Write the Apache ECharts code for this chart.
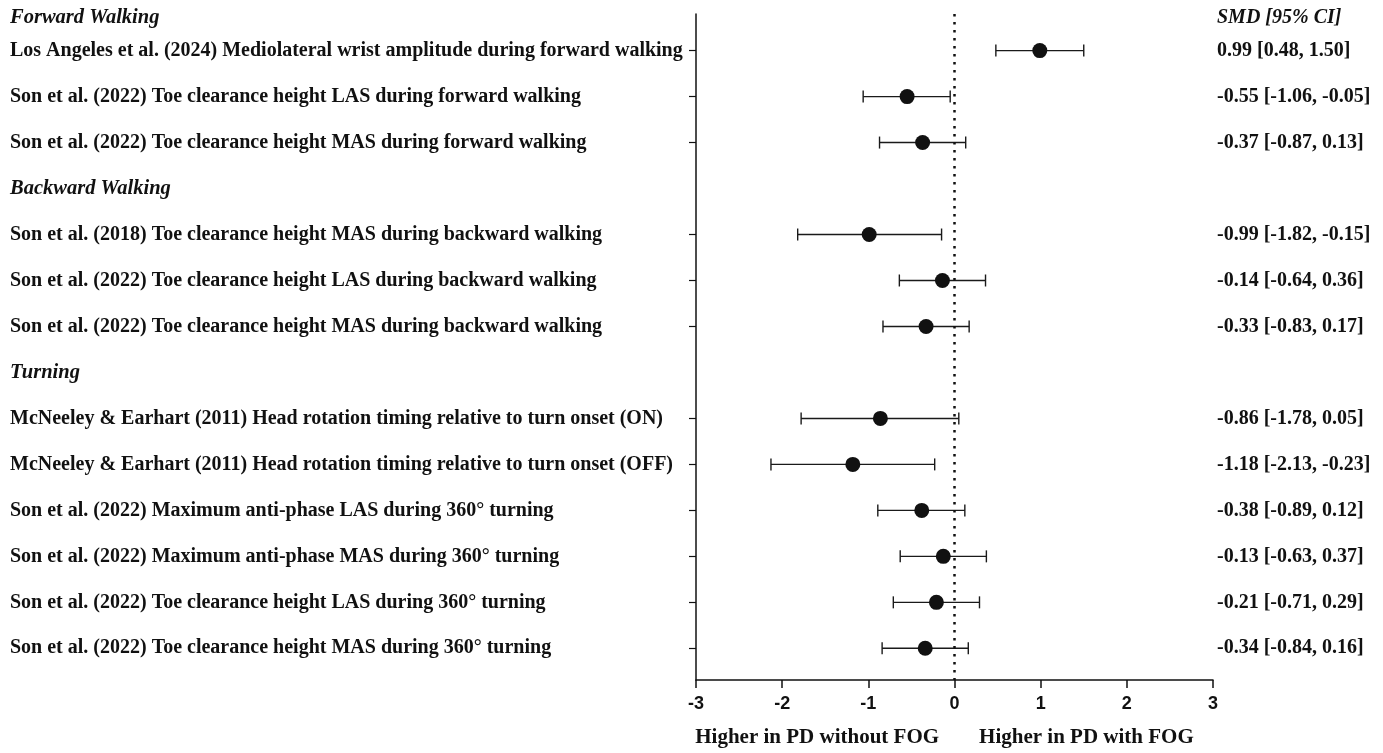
<!DOCTYPE html>
<html>
<head>
<meta charset="utf-8">
<script src="https://cdn.jsdelivr.net/npm/echarts@6/dist/echarts.min.js"></script>
<style>
html,body{margin:0;padding:0;background:#fff;}
#chart{width:1383px;height:753px;}
</style>
</head>
<body>
<div id="chart"></div>
<script>
// ---- data ----
const groupNames = ['Forward Walking', 'Backward Walking', 'Turning'];
const studyLabels = [
  'Los Angeles et al. (2024) Mediolateral wrist amplitude during forward walking',
  'Son et al. (2022) Toe clearance height LAS during forward walking',
  'Son et al. (2022) Toe clearance height MAS during forward walking',
  'Son et al. (2018) Toe clearance height MAS during backward walking',
  'Son et al. (2022) Toe clearance height LAS during backward walking',
  'Son et al. (2022) Toe clearance height MAS during backward walking',
  'McNeeley & Earhart (2011) Head rotation timing relative to turn onset (ON)',
  'McNeeley & Earhart (2011) Head rotation timing relative to turn onset (OFF)',
  'Son et al. (2022) Maximum anti-phase LAS during 360° turning',
  'Son et al. (2022) Maximum anti-phase MAS during 360° turning',
  'Son et al. (2022) Toe clearance height LAS during 360° turning',
  'Son et al. (2022) Toe clearance height MAS during 360° turning'
];
const studyGroup = [0, 0, 0, 1, 1, 1, 2, 2, 2, 2, 2, 2];
const smd    = [0.99, -0.55, -0.37, -0.99, -0.14, -0.33, -0.86, -1.18, -0.38, -0.13, -0.21, -0.34];
const ciLow  = [0.48, -1.06, -0.87, -1.82, -0.64, -0.83, -1.78, -2.13, -0.89, -0.63, -0.71, -0.84];
const ciHigh = [1.50, -0.05,  0.13, -0.15,  0.36,  0.17,  0.05, -0.23,  0.12,  0.37,  0.29,  0.16];
const xTicks = [-3, -2, -1, 0, 1, 2, 3];
const ciHeader = 'SMD [95% CI]';
const xTitleLeft = 'Higher in PD without FOG';
const xTitleRight = 'Higher in PD with FOG';

// ---- row layout (ordinal slots) ----
const Y_MIN = 0.204, Y_MAX = 14.689, FIRST_HEADER = 0.29;
const rowPos = [];
const headerPos = [];
let slot = 0;
groupNames.forEach((g, gi) => {
  headerPos.push(gi === 0 ? FIRST_HEADER : slot);
  slot++;
  studyGroup.forEach((sg, i) => { if (sg === gi) { rowPos[i] = slot; slot++; } });
});
const key = v => Number(v).toFixed(3);
const leftMap = {}, rightMap = {};
studyLabels.forEach((s, i) => {
  leftMap[key(rowPos[i])] = '{r|' + s + '}';
  rightMap[key(rowPos[i])] = '{r|' + smd[i].toFixed(2) + ' [' + ciLow[i].toFixed(2) + ', ' + ciHigh[i].toFixed(2) + ']}';
});
groupNames.forEach((g, gi) => { leftMap[key(headerPos[gi])] = '{h|' + g + '}'; });
rightMap[key(headerPos[0])] = '{h|' + ciHeader + '}';

const serif = '"Liberation Serif", "DejaVu Serif", serif';
const richLeft = {
  r: { fontFamily: serif, fontWeight: 'bold', fontSize: 20, color: '#111' },
  h: { fontFamily: serif, fontWeight: 'bold', fontStyle: 'italic', fontSize: 20.5, color: '#111' }
};
const richRight = {
  r: { fontFamily: serif, fontWeight: 'bold', fontSize: 20, color: '#111' },
  h: { fontFamily: serif, fontWeight: 'bold', fontStyle: 'italic', fontSize: 20, color: '#111' }
};

const chart = echarts.init(document.getElementById('chart'), null, { renderer: 'canvas' });
chart.setOption({
  animation: false,
  backgroundColor: '#fff',
  grid: { left: 696, right: 170, top: 14, bottom: 66, containLabel: false },
  xAxis: {
    type: 'value', min: xTicks[0], max: xTicks[xTicks.length - 1], interval: 1,
    splitLine: { show: false },
    axisLine: { show: true, onZero: false, lineStyle: { color: '#111', width: 1.5 } },
    axisTick: { show: true, length: 8, lineStyle: { color: '#111', width: 1.5 } },
    axisLabel: { margin: 15, fontFamily: '"Liberation Sans", Arial, sans-serif', fontWeight: 'bold', fontSize: 18, color: '#111' },
    name: '{a|' + xTitleLeft + '}{g|}{b|' + xTitleRight + '}{s|}',
    nameLocation: 'middle', nameGap: 47,
    nameTextStyle: {
      rich: {
        a: { fontFamily: serif, fontWeight: 'bold', fontSize: 21, color: '#111' },
        g: { width: 40 },
        b: { fontFamily: serif, fontWeight: 'bold', fontSize: 21, color: '#111' },
        s: { width: 20 }
      }
    }
  },
  yAxis: [
    {
      type: 'value', inverse: true, min: Y_MIN, max: Y_MAX, position: 'left',
      splitLine: { show: false },
      axisLine: { show: true, onZero: false, lineStyle: { color: '#111', width: 1.5 } },
      axisTick: { show: true, length: 7, customValues: rowPos, lineStyle: { color: '#111', width: 1.2 } },
      axisLabel: {
        customValues: rowPos.concat(headerPos), align: 'left', margin: 686,
        formatter: v => leftMap[key(v)] || '', rich: richLeft
      }
    },
    {
      type: 'value', inverse: true, min: Y_MIN, max: Y_MAX, position: 'right',
      splitLine: { show: false },
      axisLine: { show: false, onZero: false }, axisTick: { show: false },
      axisLabel: {
        customValues: rowPos.concat([headerPos[0]]), align: 'left', margin: 4,
        formatter: v => rightMap[key(v)] || '', rich: richRight
      }
    }
  ],
  series: [
    {
      type: 'custom',
      data: smd.map((v, i) => [ciLow[i], ciHigh[i], rowPos[i]]),
      encode: { x: [0, 1], y: 2 },
      renderItem: function (params, api) {
        const a = api.coord([api.value(0), api.value(2)]);
        const b = api.coord([api.value(1), api.value(2)]);
        const h = 6;
        const st = { stroke: '#1a1a1a', lineWidth: 1.4 };
        return {
          type: 'group',
          children: [
            { type: 'line', shape: { x1: a[0], y1: a[1], x2: b[0], y2: b[1] }, style: st },
            { type: 'line', shape: { x1: a[0], y1: a[1] - h, x2: a[0], y2: a[1] + h }, style: st },
            { type: 'line', shape: { x1: b[0], y1: b[1] - h, x2: b[0], y2: b[1] + h }, style: st }
          ]
        };
      },
      z: 3
    },
    {
      type: 'scatter',
      data: smd.map((v, i) => [v, rowPos[i]]),
      symbol: 'circle', symbolSize: 15,
      itemStyle: { color: '#111', opacity: 1 },
      z: 4,
      markLine: {
        silent: true, symbol: 'none',
        label: { show: false },
        lineStyle: { color: '#111', width: 2.5, type: [2.5, 5.5], opacity: 1 },
        data: [{ xAxis: 0 }]
      }
    }
  ]
});
</script>
</body>
</html>
